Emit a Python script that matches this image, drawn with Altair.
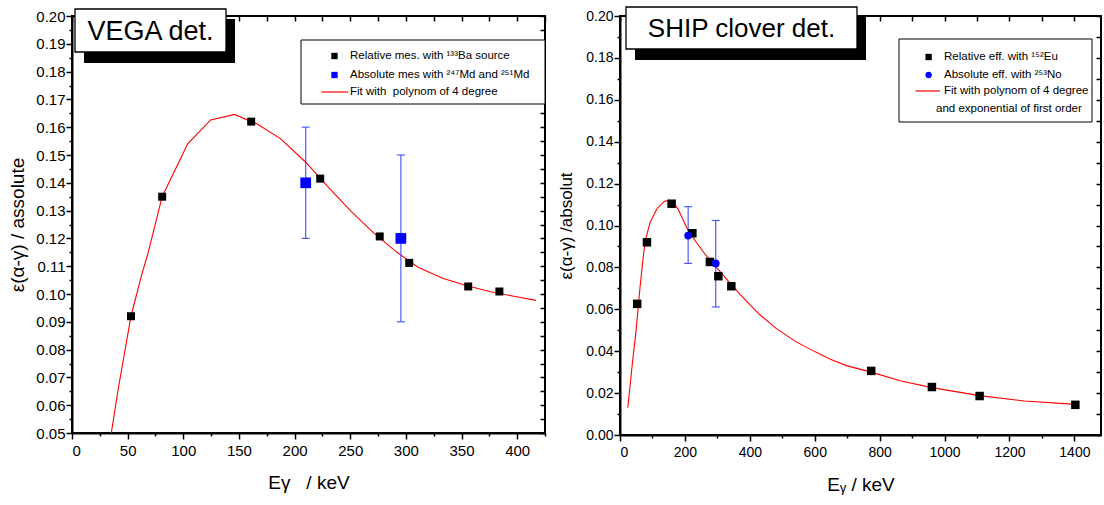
import altair as alt
import pandas as pd

FONT = "Liberation Sans"
NB = "\u00a0"

# ---------------- VEGA detector (left panel) ----------------
vega_rel_e = [53, 81, 161, 223, 276.5, 303, 356, 384]
vega_rel_eff = [0.092, 0.135, 0.162, 0.1415, 0.1207, 0.1112, 0.1027, 0.1009]
vega_abs_e = [210, 295.5]
vega_abs_eff = [0.140, 0.120]
vega_abs_lo = [0.120, 0.090]
vega_abs_hi = [0.160, 0.150]
vega_fit_e = [35.3, 41.6, 53, 62, 68.5, 81, 104, 124.6, 146, 166, 187, 210,
              230, 251, 271, 292, 311, 333, 355, 376, 397, 417]
vega_fit_eff = [0.050, 0.066, 0.092, 0.106, 0.115, 0.135, 0.154, 0.1626, 0.1646,
                0.1612, 0.156, 0.1474, 0.1385, 0.1296, 0.122, 0.115, 0.1096,
                0.1057, 0.103, 0.1008, 0.0992, 0.0977]

# ---------------- SHIP clover detector (right panel) ----------------
ship_rel_e = [53, 83, 159, 223, 277, 303, 343, 774, 961, 1108, 1403]
ship_rel_eff = [0.0626, 0.092, 0.1104, 0.0963, 0.0826, 0.0758, 0.0710,
                0.0306, 0.0229, 0.0186, 0.0144]
ship_abs_e = [210, 295]
ship_abs_eff = [0.0952, 0.0819]
ship_abs_lo = [0.0819, 0.0611]
ship_abs_hi = [0.109, 0.1024]
ship_fit_e = [24, 38, 49, 62, 73, 80, 93, 114, 136, 150, 165, 180, 195, 210,
              235, 261, 289, 320, 343, 380, 430, 480, 539, 600, 648, 700, 774,
              866, 961, 1108, 1247, 1403]
ship_fit_eff = [0.013, 0.034, 0.049, 0.071, 0.087, 0.094, 0.1016, 0.108, 0.1115,
                0.112, 0.111, 0.1075, 0.1025, 0.0976, 0.092, 0.0865, 0.0814,
                0.0760, 0.0718, 0.0655, 0.0575, 0.051, 0.0448, 0.0398, 0.0362,
                0.0330, 0.0300, 0.0258, 0.0226, 0.0188, 0.0162, 0.0146]

one = pd.DataFrame({"k": [0]})


def major_test(step):
    return f"abs(datum.value/{step} - round(datum.value/{step})) < 0.0001"


def make_panel(p):
    xs = alt.Scale(domain=p["xdom"], nice=False, zero=False)
    ys = alt.Scale(domain=p["ydom"], nice=False, zero=False)
    xt = major_test(p["xlab"])
    yt = major_test(p["ylab"])
    x_axis = alt.Axis(orient="bottom", values=p["xticks"],
                      labelExpr=f"{xt} ? format(datum.value, 'd') : ''",
                      tickSize={"condition": {"test": xt, "value": 6}, "value": 3},
                      labelFontSize=p["lfs"], labelPadding=4,
                      title=p["xtitle"], titleFontSize=p["xtfs"], titlePadding=p["xtpad"])
    y_axis = alt.Axis(orient="left", values=p["yticks"],
                      labelExpr=f"{yt} ? format(datum.value, '.2f') : ''",
                      tickSize={"condition": {"test": yt, "value": 6}, "value": 3},
                      labelFontSize=p["lfs"], labelPadding=1,
                      title=p["ytitle"], titleFontSize=p["ytfs"], titlePadding=p["ytpad"])
    top_axis = alt.Axis(orient="top", values=p["xticks"], labels=False, domain=False,
                        offset=-5, tickSize=5, title=None)
    right_axis = alt.Axis(orient="right", values=p["yticks"], labels=False, domain=False,
                          offset=-5, tickSize=5, title=None)

    fit_df = pd.DataFrame({"E": p["fit_e"], "eff": p["fit_eff"]})
    rel_df = pd.DataFrame({"E": p["rel_e"], "eff": p["rel_eff"]})
    abs_df = pd.DataFrame({"E": p["abs_e"], "eff": p["abs_eff"],
                           "lo": p["abs_lo"], "hi": p["abs_hi"]})

    fit = alt.Chart(fit_df).mark_line(color="#ff0000", strokeWidth=1.1, clip=True).encode(
        x=alt.X("E:Q", scale=xs, axis=x_axis),
        y=alt.Y("eff:Q", scale=ys, axis=y_axis))
    frame = alt.Chart(fit_df).mark_line(opacity=0).encode(
        x=alt.X("E:Q", scale=xs, axis=top_axis),
        y=alt.Y("eff:Q", scale=ys, axis=right_axis))
    err = alt.Chart(abs_df).mark_rule(color="#3040ff", strokeWidth=1.2, opacity=0.85).encode(
        x=alt.X("E:Q", scale=xs, axis=None),
        y=alt.Y("lo:Q", scale=ys, axis=None), y2="hi:Q")
    cap_lo = alt.Chart(abs_df).mark_tick(color="#3040ff", orient="horizontal",
                                         size=8, thickness=1.2, opacity=0.85).encode(
        x=alt.X("E:Q", scale=xs, axis=None), y=alt.Y("lo:Q", scale=ys, axis=None))
    cap_hi = alt.Chart(abs_df).mark_tick(color="#3040ff", orient="horizontal",
                                         size=8, thickness=1.2, opacity=0.85).encode(
        x=alt.X("E:Q", scale=xs, axis=None), y=alt.Y("hi:Q", scale=ys, axis=None))
    rel = alt.Chart(rel_df).mark_point(shape="square", filled=True, color="black",
                                       opacity=1, size=p["rel_size"]).encode(
        x=alt.X("E:Q", scale=xs, axis=None), y=alt.Y("eff:Q", scale=ys, axis=None))
    absm = alt.Chart(abs_df).mark_point(shape=p["abs_shape"], filled=True, color="#0000ff",
                                        opacity=1, size=p["abs_size"]).encode(
        x=alt.X("E:Q", scale=xs, axis=None), y=alt.Y("eff:Q", scale=ys, axis=None))

    deco = []
    # title box with shadow
    tb = p["tbox"]
    deco.append(alt.Chart(one).mark_rect(fill="black").encode(
        x=alt.value(tb[0] + 9), x2=alt.value(tb[1] + 9),
        y=alt.value(tb[2] + 10), y2=alt.value(tb[3] + 11)))
    deco.append(alt.Chart(one).mark_rect(fill="white", stroke="black", strokeWidth=1.3).encode(
        x=alt.value(tb[0]), x2=alt.value(tb[1]), y=alt.value(tb[2]), y2=alt.value(tb[3])))
    deco.append(alt.Chart(one).mark_text(font=FONT, fontSize=p["tfs"], color="black",
                                         align="center", baseline="middle").encode(
        x=alt.value((tb[0] + tb[1]) / 2), y=alt.value((tb[2] + tb[3]) / 2 + 1),
        text=alt.value(p["title"])))
    # legend box
    lb = p["lbox"]
    deco.append(alt.Chart(one).mark_rect(fill="white", stroke="black", strokeWidth=1).encode(
        x=alt.value(lb[0]), x2=alt.value(lb[1]), y=alt.value(lb[2]), y2=alt.value(lb[3])))
    sx = p["leg_sym_x"]
    ly = p["leg_y"]
    deco.append(alt.Chart(one).mark_point(shape="square", filled=True, color="black",
                                          opacity=1, size=40).encode(
        x=alt.value(sx), y=alt.value(ly[0])))
    deco.append(alt.Chart(one).mark_point(shape=p["abs_shape"], filled=True, color="#0000ff",
                                          opacity=1, size=40).encode(
        x=alt.value(sx), y=alt.value(ly[1])))
    deco.append(alt.Chart(one).mark_rule(color="#ff0000", strokeWidth=1.2).encode(
        x=alt.value(p["leg_line"][0]), x2=alt.value(p["leg_line"][1]), y=alt.value(ly[2])))
    for txt, yy, xx in zip(p["leg_texts"], ly, p["leg_txt_xs"]):
        deco.append(alt.Chart(one).mark_text(font=FONT, fontSize=11.5, color="black",
                                             align="left", baseline="middle").encode(
            x=alt.value(xx), y=alt.value(yy), text=alt.value(txt)))

    layers = [fit, frame, err, cap_lo, cap_hi, rel, absm] + deco
    return alt.layer(*layers).resolve_axis(x="independent", y="independent").properties(
        width=p["w"], height=p["h"])


left = make_panel(dict(
    xdom=[0, 425], ydom=[0.05, 0.20], w=473, h=417,
    xticks=[i * 25 for i in range(18)], xlab=50,
    yticks=[round(0.05 + i * 0.005, 3) for i in range(31)], ylab=0.01,
    lfs=15, xtitle=f"Eγ{NB}{NB}{NB}/ keV", xtfs=19, xtpad=15,
    ytitle="ε(α-γ) / assolute", ytfs=19, ytpad=8,
    fit_e=vega_fit_e, fit_eff=vega_fit_eff, rel_e=vega_rel_e, rel_eff=vega_rel_eff,
    abs_e=vega_abs_e, abs_eff=vega_abs_eff, abs_lo=vega_abs_lo, abs_hi=vega_abs_hi,
    rel_size=64, abs_shape="square", abs_size=115,
    tbox=[3, 154, -7, 36], title="VEGA det.", tfs=27,
    lbox=[229, 473, 24, 88], leg_sym_x=262.5, leg_txt_x=278, leg_y=[40, 59, 76],
    leg_line=[249.5, 276],
    leg_texts=["Relative mes. with ¹³³Ba source", "Absolute mes with ²⁴⁷Md and ²⁵¹Md",
               f"Fit with{NB} polynom of 4 degree"],
    leg_txt_xs=[278, 278, 278],
))

right = make_panel(dict(
    xdom=[0, 1482], ydom=[0.0, 0.20], w=481, h=419,
    xticks=[i * 100 for i in range(15)], xlab=200,
    yticks=[round(i * 0.01, 3) for i in range(21)], ylab=0.02,
    lfs=14, xtitle="Eᵧ / keV", xtfs=19, xtpad=16,
    ytitle="ε(α-γ) /absolut", ytfs=17, ytpad=10,
    fit_e=ship_fit_e, fit_eff=ship_fit_eff, rel_e=ship_rel_e, rel_eff=ship_rel_eff,
    abs_e=ship_abs_e, abs_eff=ship_abs_eff, abs_lo=ship_abs_lo, abs_hi=ship_abs_hi,
    rel_size=72, abs_shape="circle", abs_size=60,
    tbox=[6, 237, -9, 33], title="SHIP clover det.", tfs=26,
    lbox=[279, 472, 23, 106], leg_sym_x=308.6, leg_txt_x=324, leg_y=[41, 59, 75, 93],
    leg_line=[295.5, 320],
    leg_texts=["Relative eff. with ¹⁵²Eu", "Absolute eff. with ²⁵³No",
               "Fit with polynom of 4 degree", "and exponential of first order"],
    leg_txt_xs=[324, 324, 324, 316],
))

chart = alt.hconcat(left, right, spacing=9).properties(
    padding={"left": 7, "top": 5, "right": 0, "bottom": 0},
    background="white",
).configure_view(stroke="black", strokeWidth=2).configure_axis(
    labelFont=FONT, titleFont=FONT, labelColor="black", titleColor="black",
    domainColor="black", domainWidth=2, tickColor="black", tickWidth=1.5,
    grid=False, titleFontWeight="normal",
).configure_concat(spacing=9)

chart.save("out.html", embed_options={"renderer": "svg", "actions": False})
